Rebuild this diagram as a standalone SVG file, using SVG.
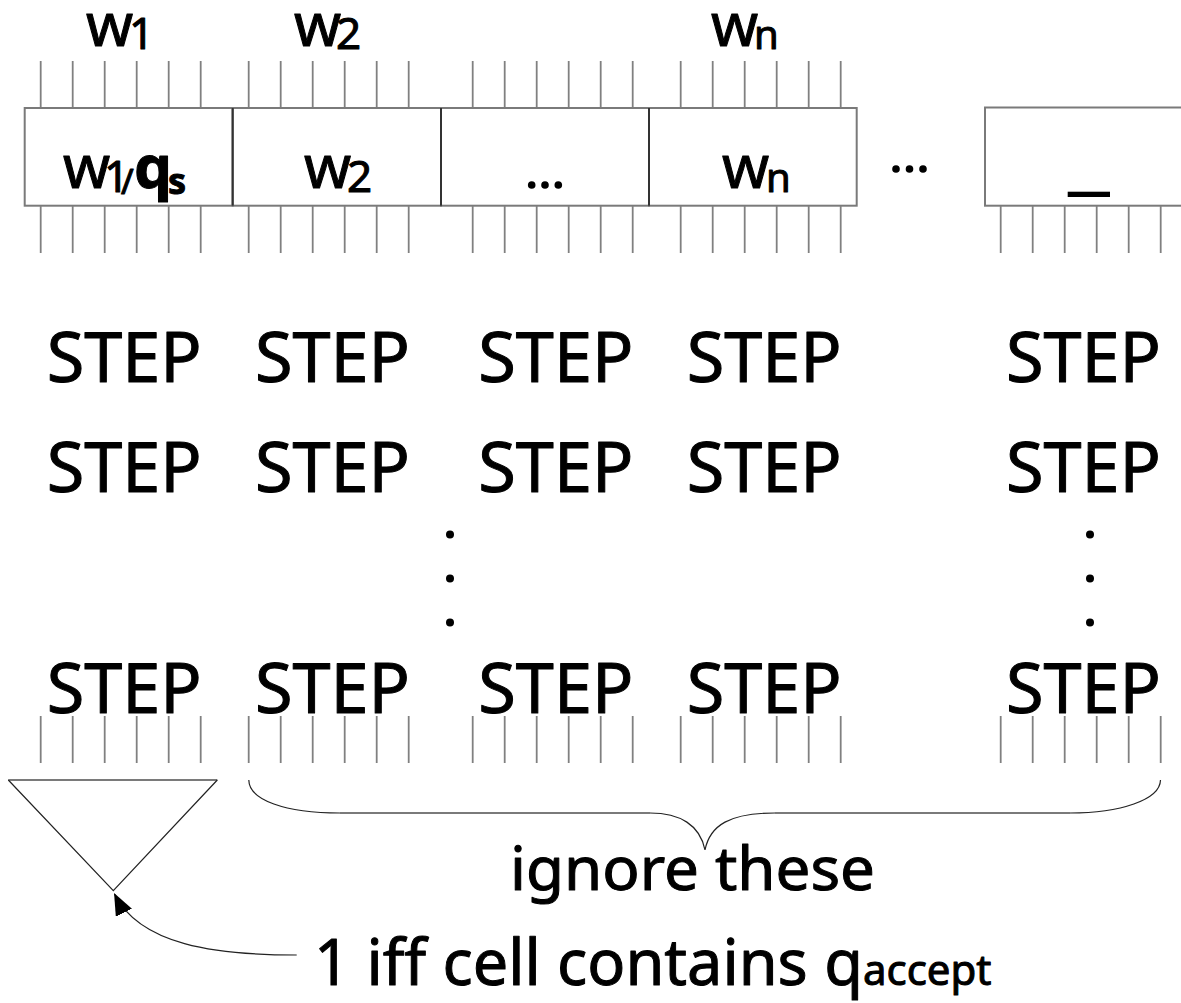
<svg xmlns="http://www.w3.org/2000/svg" width="1181" height="1003" viewBox="0 0 1181 1003">
<style>
.tick{stroke:#808080;stroke-width:1.8;fill:none}
.box{stroke:#7a7a7a;stroke-width:2;fill:#fff}
.div{stroke:#333;stroke-width:2}
.t{font-family:"Noto Sans","DejaVu Sans",sans-serif;fill:#000;stroke:#000;stroke-width:1;stroke-linejoin:round}
.step{font-size:70px}
.lbl{font-size:60px}
.sub{font-size:44px}
.thin{stroke:#222;stroke-width:1.2;fill:none}
</style>
<defs>
<g id="ticks6">
<line class="tick" x1="40.7" y1="0" x2="40.7" y2="47"/>
<line class="tick" x1="72.7" y1="0" x2="72.7" y2="47"/>
<line class="tick" x1="104.7" y1="0" x2="104.7" y2="47"/>
<line class="tick" x1="136.7" y1="0" x2="136.7" y2="47"/>
<line class="tick" x1="168.7" y1="0" x2="168.7" y2="47"/>
<line class="tick" x1="200.7" y1="0" x2="200.7" y2="47"/>
</g>
<marker id="ah" markerUnits="userSpaceOnUse" markerWidth="22" markerHeight="18" viewBox="0 0 22 18" refX="21" refY="9" orient="auto">
<path d="M0,0 L22,9 L0,18 z" fill="#000"/>
</marker>
</defs>

<g id="top-labels">
<text class="t lbl" x="86" y="46">w<tspan class="sub" x="129" y="49">1</tspan></text>
<text class="t lbl" x="294" y="46">w<tspan class="sub" x="336" y="49">2</tspan></text>
<text class="t lbl" x="711" y="46">w<tspan font-size="40" x="754" y="49">n</tspan></text>
</g>

<g id="tape">
<g id="top-ticks">
<use href="#ticks6" x="0" y="61"/>
<use href="#ticks6" x="208" y="61"/>
<use href="#ticks6" x="432" y="61"/>
<use href="#ticks6" x="640" y="61"/>
</g>
<g id="cell-w1">
<rect class="box" x="24.7" y="108" width="208" height="97.7"/>
<text class="t lbl" x="63" y="188">w<tspan class="sub" x="104" y="192">1</tspan><tspan font-size="34" x="121" y="194">/</tspan><tspan font-weight="bold" font-size="60" x="134" y="188">q</tspan><tspan font-weight="bold" font-size="36" x="168" y="194">s</tspan></text>
</g>
<g id="cell-w2">
<rect class="box" x="232.7" y="108" width="208.3" height="97.7"/>
<text class="t lbl" x="304" y="188">w<tspan class="sub" x="347" y="192">2</tspan></text>
</g>
<g id="cell-dots">
<rect class="box" x="441" y="108" width="208" height="97.7"/>
<circle cx="531.7" cy="185" r="3.8"/><circle cx="545" cy="185" r="3.8"/><circle cx="558.3" cy="185" r="3.8"/>
</g>
<g id="cell-wn">
<rect class="box" x="649" y="108" width="207.7" height="97.7"/>
<text class="t lbl" x="722" y="188">w<tspan font-size="40" x="766" y="192">n</tspan></text>
</g>
<line class="div" x1="232.7" y1="108" x2="232.7" y2="205.7"/>
<line class="div" x1="441" y1="108" x2="441" y2="205.7"/>
<line class="div" x1="649" y1="108" x2="649" y2="205.7"/>
<g id="gap-dots">
<circle cx="896" cy="169" r="3.8"/><circle cx="909.5" cy="169" r="3.8"/><circle cx="923" cy="169" r="3.8"/>
</g>
<g id="cell-blank">
<rect class="box" x="985" y="107.5" width="220" height="98.2"/>
<rect x="1067.7" y="191.7" width="42.3" height="5.3" fill="#000"/>
</g>
<g id="tape-bottom-ticks">
<use href="#ticks6" x="0" y="206"/>
<use href="#ticks6" x="208" y="206"/>
<use href="#ticks6" x="432" y="206"/>
<use href="#ticks6" x="640" y="206"/>
<use href="#ticks6" x="960" y="206"/>
</g>
</g>

<g id="step-rows">
<g id="row1">
<text class="t step" x="46.7" y="382" textLength="155" lengthAdjust="spacingAndGlyphs">STEP</text>
<text class="t step" x="255" y="382" textLength="155" lengthAdjust="spacingAndGlyphs">STEP</text>
<text class="t step" x="478.3" y="382" textLength="155" lengthAdjust="spacingAndGlyphs">STEP</text>
<text class="t step" x="686.7" y="382" textLength="155" lengthAdjust="spacingAndGlyphs">STEP</text>
<text class="t step" x="1006" y="382" textLength="155" lengthAdjust="spacingAndGlyphs">STEP</text>
</g>
<g id="row2">
<text class="t step" x="46.7" y="492" textLength="155" lengthAdjust="spacingAndGlyphs">STEP</text>
<text class="t step" x="255" y="492" textLength="155" lengthAdjust="spacingAndGlyphs">STEP</text>
<text class="t step" x="478.3" y="492" textLength="155" lengthAdjust="spacingAndGlyphs">STEP</text>
<text class="t step" x="686.7" y="492" textLength="155" lengthAdjust="spacingAndGlyphs">STEP</text>
<text class="t step" x="1006" y="492" textLength="155" lengthAdjust="spacingAndGlyphs">STEP</text>
</g>
<g id="vdots">
<circle cx="450" cy="534.5" r="4"/><circle cx="450" cy="578.5" r="4"/><circle cx="450" cy="622.5" r="4"/>
<circle cx="1090" cy="534.5" r="4"/><circle cx="1090" cy="578.5" r="4"/><circle cx="1090" cy="622.5" r="4"/>
</g>
<g id="row3">
<text class="t step" x="46.7" y="713" textLength="155" lengthAdjust="spacingAndGlyphs">STEP</text>
<text class="t step" x="255" y="713" textLength="155" lengthAdjust="spacingAndGlyphs">STEP</text>
<text class="t step" x="478.3" y="713" textLength="155" lengthAdjust="spacingAndGlyphs">STEP</text>
<text class="t step" x="686.7" y="713" textLength="155" lengthAdjust="spacingAndGlyphs">STEP</text>
<text class="t step" x="1006" y="713" textLength="155" lengthAdjust="spacingAndGlyphs">STEP</text>
</g>
<g id="row3-ticks">
<use href="#ticks6" x="0" y="716"/>
<use href="#ticks6" x="208" y="716"/>
<use href="#ticks6" x="432" y="716"/>
<use href="#ticks6" x="640" y="716"/>
<use href="#ticks6" x="960" y="716"/>
</g>
</g>

<g id="output-triangle">
<line x1="8.3" y1="780" x2="217.3" y2="780" stroke="#7a7a7a" stroke-width="2"/>
<path class="thin" d="M8.3,780 L113.3,890.7 L217.3,780"/>
</g>

<g id="brace">
<path class="thin" d="M248.8,780 C249,800 285,813 340,813 L650,813 C680,813 700,825 705,850 C710,825 730,813 775,813 L1070,813 C1120,813 1160,800 1160.5,780"/>
<line x1="340" y1="813" x2="650" y2="813" stroke="#7a7a7a" stroke-width="2"/>
<line x1="775" y1="813" x2="1070" y2="813" stroke="#7a7a7a" stroke-width="2"/>
</g>

<g id="labels">
<text class="t lbl" x="510" y="890" textLength="365" lengthAdjust="spacingAndGlyphs">ignore these</text>
<text class="t" font-size="63" x="314" y="985">1 iff cell contains q<tspan font-size="42" y="985">accept</tspan></text>
</g>

<g id="connectors">
<path class="thin" d="M296.7,955 C215,955 140,945 114.5,894" marker-end="url(#ah)"/>
</g>
</svg>
